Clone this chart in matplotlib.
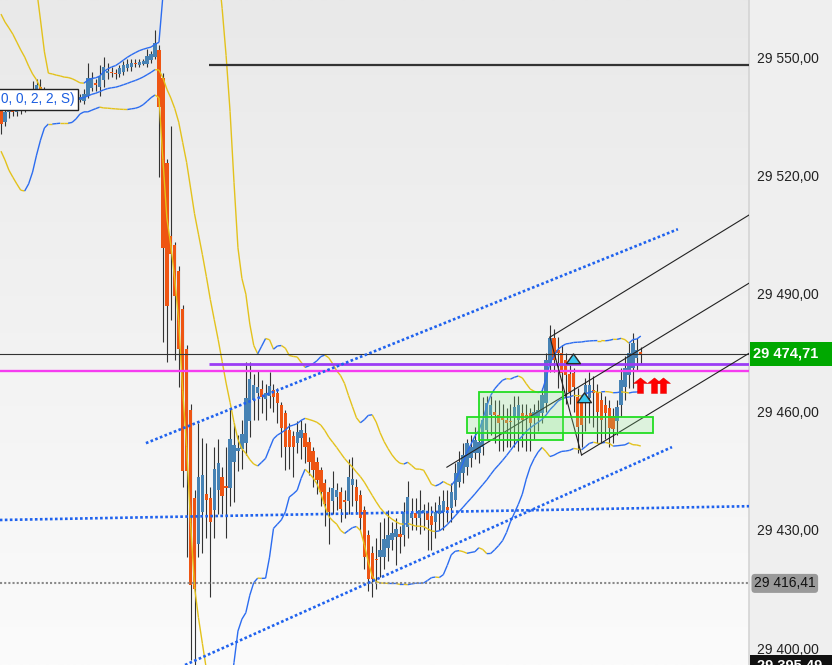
import numpy as np
import pandas as pd
import matplotlib
matplotlib.use("Agg")
import matplotlib.pyplot as plt
from matplotlib.collections import LineCollection
from matplotlib.patches import Rectangle
from matplotlib.path import Path
from matplotlib.colors import LinearSegmentedColormap
import matplotlib.transforms as mtransforms

plt.rcParams['font.family'] = ['Liberation Sans', 'DejaVu Sans']

# candles (left to right)
opens = [29537, 29533.5, 29536, 29537, 29536, 29537.5, 29537, 29538.5, 29540, 29541.5,
         29542.5, 29542, 29541, 29541.5, 29540.5, 29541.5, 29540.5, 29539.5, 29538.5, 29539,
         29539.2, 29538.8, 29540, 29542.2, 29543.4, 29542.4, 29544.2, 29546, 29546.3, 29546,
         29545.8, 29546.3, 29547.3, 29547.5, 29548.6, 29548, 29548.3, 29548.3, 29549.3, 29550,
         29551.8, 29544.7, 29523.1, 29504.6, 29502.3, 29495.7, 29486, 29476, 29460.5, 29438,
         29426.5, 29434.6, 29439, 29438, 29435, 29440.2, 29443.5, 29441.2, 29440.7, 29447.1,
         29450, 29450.4, 29452.1, 29457.7, 29463, 29464.8, 29465.8, 29463.3, 29464, 29465.6,
         29464.8, 29461.8, 29459.7, 29455.4, 29453.9, 29452.1, 29453.4, 29454.7, 29452.4, 29449.9,
         29447.3, 29445.3, 29442, 29439.7, 29437.2, 29438.4, 29439.5, 29437.5, 29437.2, 29441.5,
         29441, 29438.9, 29435.1, 29428.8, 29424.2, 29422.7, 29423, 29423.2, 29425.5, 29427.5,
         29428.3, 29429, 29428.8, 29430.6, 29433.1, 29434.2, 29433.1, 29434.4, 29434.4, 29433.6,
         29432.1, 29433.9, 29434.6, 29435.9, 29435.6, 29437.7, 29442.2, 29444.5, 29446, 29448.3,
         29449.6, 29449.6, 29451.1, 29455.4, 29459.2, 29460, 29459.2, 29458.7, 29458, 29457.7,
         29458.7, 29458, 29459.7, 29459.2, 29459.7, 29458.7, 29458.7, 29459.7, 29462.3, 29472.4,
         29478.8, 29475.7, 29475, 29473.2, 29469.5, 29469.9, 29463.8, 29462.5, 29463.8, 29463.5,
         29465.6, 29465, 29463, 29461.8, 29461, 29459, 29457.5, 29461.8, 29466.3, 29469.4,
         29471.1, 29473.7, 29475]
highs = [29538, 29537, 29538, 29538, 29538.5, 29539, 29540, 29541.5, 29544, 29544.5,
         29544.5, 29542.5, 29542, 29542, 29542, 29542, 29541.5, 29540.5, 29540, 29540.5,
         29540.5, 29542, 29548.5, 29546.2, 29544.5, 29548, 29550, 29548.5, 29547.5, 29547,
         29548, 29549, 29549.5, 29549.5, 29549.5, 29549.5, 29549.6, 29552, 29551.5, 29556.8,
         29553, 29546, 29524, 29532.5, 29503, 29497, 29487, 29477, 29462, 29440,
         29457, 29453.4, 29452, 29441, 29451, 29453, 29446, 29451, 29461, 29457,
         29454, 29458, 29472.7, 29472.7, 29469.5, 29470.5, 29468, 29467, 29470, 29467,
         29466, 29462.5, 29460.5, 29457, 29455, 29457.5, 29458, 29457, 29453.5, 29451,
         29448.5, 29446, 29443, 29441, 29445, 29442, 29441, 29440, 29448, 29448.6,
         29443, 29440, 29436, 29430, 29426, 29428, 29432, 29433, 29435, 29432,
         29433, 29431, 29437, 29442.5, 29438, 29438, 29440, 29436.5, 29437, 29436,
         29437, 29438.5, 29440, 29440, 29442, 29447, 29450, 29452, 29453, 29454,
         29456, 29456, 29463.8, 29464, 29464, 29463, 29463, 29462, 29461, 29462,
         29464, 29464, 29462, 29462, 29461, 29462, 29463, 29466, 29475, 29482,
         29481, 29479, 29477, 29475, 29472, 29471, 29466, 29464, 29468.5, 29470,
         29469, 29467, 29465, 29464, 29463, 29461, 29463, 29471, 29474, 29477.5,
         29480, 29478.8, 29476.5]
lows = [29530.5, 29532.5, 29534.5, 29535, 29535, 29535.5, 29536, 29537.5, 29539, 29540,
        29540, 29539, 29539.5, 29539.5, 29539, 29539.5, 29538.5, 29537.5, 29537.5, 29538,
        29538.5, 29538, 29539.5, 29541.5, 29541.5, 29540, 29542.5, 29544.5, 29545, 29544.5,
        29545, 29545.5, 29546.5, 29546.5, 29547.5, 29547.5, 29548, 29547.5, 29548.5, 29549.5,
        29519.6, 29477.7, 29472.5, 29483.3, 29473, 29466.3, 29441, 29423, 29397, 29395.5,
        29423, 29424, 29428, 29413, 29428, 29434, 29434, 29428, 29436, 29437,
        29445, 29445.5, 29449, 29453.5, 29458, 29458, 29459.7, 29458, 29461, 29460,
        29457, 29448.6, 29445.3, 29445.5, 29443.3, 29449.5, 29448, 29447, 29444, 29441,
        29439, 29436, 29431, 29426.3, 29434, 29435, 29432, 29433, 29434, 29436,
        29434, 29430, 29420, 29414.4, 29413, 29415, 29418, 29420, 29422, 29425,
        29421, 29424, 29426, 29428, 29430, 29430, 29429, 29430, 29425, 29425,
        29428, 29430, 29430, 29432, 29432, 29436, 29441, 29442, 29444, 29446,
        29448, 29447, 29449, 29453, 29454, 29452, 29450, 29450, 29451, 29451,
        29451, 29450, 29451, 29450, 29450, 29453, 29455, 29457, 29460, 29470,
        29470, 29466, 29465, 29462, 29462, 29460, 29449.6, 29451, 29455, 29457,
        29456, 29452, 29452, 29453, 29451, 29452, 29454, 29459, 29463, 29466,
        29466, 29470.6, 29472]
closes = [29533, 29536, 29537, 29536, 29537.5, 29537, 29538.5, 29540, 29542, 29543,
          29541.5, 29541, 29541.5, 29540.5, 29541.5, 29540.5, 29539.5, 29538.5, 29539, 29539.5,
          29539.8, 29540.6, 29544.7, 29544.7, 29542.9, 29545.2, 29547.5, 29546.5, 29546, 29545.7,
          29547.2, 29548, 29548.3, 29548.4, 29548.3, 29548.8, 29549, 29550.3, 29550.8, 29553.5,
          29537.3, 29501.6, 29486.9, 29500, 29489.4, 29476, 29445, 29445, 29416, 29415,
          29443.3, 29443.8, 29437.5, 29432, 29445.5, 29447, 29438.7, 29440.7, 29453.1, 29451.6,
          29450.8, 29454.2, 29463.5, 29468.4, 29466.8, 29466.3, 29463.8, 29464.8, 29466.5, 29463.8,
          29462.3, 29455.9, 29451.1, 29450.9, 29451.1, 29454.9, 29455.4, 29450.9, 29447.3, 29445.3,
          29442.7, 29439.5, 29436.5, 29434.6, 29440.7, 29440.2, 29435.4, 29437.1, 29443.5, 29442.8,
          29437.2, 29433.1, 29423, 29417.4, 29417.4, 29422.3, 29425, 29427.8, 29428.8, 29429.3,
          29430.1, 29428.3, 29434.6, 29438.4, 29434.4, 29433, 29435.1, 29435.1, 29432.6, 29431.3,
          29434.6, 29436.2, 29437.2, 29435.1, 29439.7, 29444.5, 29447.3, 29449.1, 29452.1, 29450.9,
          29452.9, 29452.4, 29458, 29462.3, 29461.8, 29459.2, 29457.2, 29458, 29457.2, 29457.4,
          29461.3, 29461.8, 29458, 29458.5, 29457.2, 29460, 29460.5, 29464.3, 29473.2, 29478.8,
          29473.2, 29475, 29469.9, 29469.4, 29465, 29466.3, 29456.2, 29456.7, 29466.8, 29466.8,
          29464.8, 29460, 29458, 29459.7, 29455.9, 29455.5, 29461.3, 29468.1, 29471.1, 29475,
          29477.5, 29475.7, 29474.71]

# band values before the first full 20-bar window
nan = np.nan
upper_head = [nan, nan, nan, nan, nan, nan, nan, nan, nan, 29567.3,
              29559.4, 29551.3, 29545.9, 29545.7, 29545.4, 29545.2, 29544.9, 29544.8, 29544.5]
mid_head = [29560.9, 29558.9, 29557.4, 29555.8, 29553.8, 29551.8, 29550.0, 29547.7, 29545.7, 29544.2,
            29542.1, 29541.1, 29540.6, 29540.1, 29539.8, 29539.6, 29539.5, 29539.3, 29539.2]
lower_head = [29526.1, 29523.9, 29521.3, 29519.5, 29517.8, 29516.2, 29516.0, 29517.8, 29520.8, 29525.1,
              29528.9, 29532.0, 29533.0, 29533.0, 29533.1, 29533.2, 29533.2, 29533.2, 29533.4]

# drawn objects: (bar index, price) anchors
dotted_lines = [[(36.7, 29452.0), (171.4, 29506.3)],
                [(46.6, 29395.7), (169.9, 29451.0)],
                [(-0.3, 29432.5), (189.4, 29436.0)]]
channel_lines = [[(139.0, 29478.9), (189.4, 29509.9)],
                 [(112.9, 29445.9), (189.4, 29492.6)],
                 [(147.0, 29449.0), (189.4, 29474.8)],
                 [(139.0, 29478.9), (147.0, 29449.0)]]
zones = [(121.1, 142.2, 29452.8, 29464.9), (118.05, 165.1, 29454.5, 29458.7)]
signal_up = [(144.9, 29473.3), (147.7, 29463.4)]
arrows_x = [161.9, 165.4, 167.7]
arrows_y = 29467.2

level_start = 52.7
level_black = 29548.0
level_purple = 29472.1
level_magenta = 29470.3
last_price = 29474.71
prev_low = 29416.41
day_low = 29395.49
yticks = [29400, 29430, 29460, 29490, 29520, 29550]


def fmt(v):
    return f"{v:,.2f}".replace(",", " ").replace(".", ",")


fig = plt.figure(figsize=(8.32, 6.65), dpi=100)
fig.patch.set_facecolor('#efefef')
ax = fig.add_axes([0, 0, 749 / 832, 1])
x0, x1 = -0.25, 189.4
y0, y1 = 29395.7, 29564.47

# background gradient
cmap = LinearSegmentedColormap.from_list('bg', ['#fbfbfb', '#e9e9e9'])
ax.imshow(np.linspace(0, 1, 256).reshape(-1, 1), extent=[x0, x1, y0, y1], origin='lower',
          aspect='auto', cmap=cmap, zorder=0)

o = np.array(opens)
h = np.array(highs)
l = np.array(lows)
c = np.array(closes)
idx = np.arange(len(c))

# candles
ax.vlines(idx, l, h, color='#333333', lw=0.8, zorder=2)
bull = c >= o
bottoms = np.minimum(o, c)
heights = np.maximum(np.abs(c - o), 0.3)
ax.bar(idx, heights, bottom=bottoms, width=0.84,
       color=np.where(bull, '#4682b4', '#ee5513'), lw=0, zorder=3)

# Bollinger bands (20, 2), coloured by slope
s = pd.Series(c)
mid = s.rolling(20).mean()
sd = s.rolling(20).std(ddof=0)
upper = (mid + 2 * sd).to_numpy()
lower = (mid - 2 * sd).to_numpy()
mid = mid.to_numpy()
upper[:19] = upper_head
mid[:19] = mid_head
lower[:19] = lower_head

for band in (upper, mid, lower):
    pts = np.column_stack([idx, band])
    segs = np.stack([pts[:-1], pts[1:]], axis=1)
    ok = ~np.isnan(segs).any(axis=(1, 2))
    cols = np.where(band[1:] > band[:-1], '#2b6cf0', '#e3c21c')
    ax.add_collection(LineCollection(segs[ok], colors=cols[ok], lw=1.0, zorder=4))

# levels
ax.hlines(level_black, level_start, x1, color='#333333', lw=1.6, zorder=5)
ax.axhline(last_price, color='#333333', lw=0.8, zorder=5)
ax.hlines(level_purple, level_start, x1, color='#9b3cf5', lw=2.0, zorder=5)
ax.axhline(level_magenta, color='#f53cf0', lw=1.7, zorder=5)
ax.axhline(prev_low, color='#8a8a8a', lw=1.5, ls=(0, (1, 1)), zorder=5)

# trend lines
for (xa, ya), (xb, yb) in dotted_lines:
    ax.plot([xa, xb], [ya, yb], color='#1f62ee', lw=1.9, ls=(0, (1, 0.9)), zorder=5)
for (xa, ya), (xb, yb) in channel_lines:
    ax.plot([xa, xb], [ya, yb], color='#222222', lw=0.8, zorder=5)

# zones
for xa, xb, ya, yb in zones:
    ax.add_patch(Rectangle((xa, ya), xb - xa, yb - ya, fc=(0.55, 0.92, 0.55, 0.22),
                           ec='#22dd22', lw=1.3, zorder=5))

# signals
tri = Path([(-1, -0.6), (1, -0.6), (0, 0.8), (-1, -0.6)],
           [Path.MOVETO, Path.LINETO, Path.LINETO, Path.CLOSEPOLY])
ax.plot([p[0] for p in signal_up], [p[1] for p in signal_up], ls='none', marker=tri,
        ms=10, mfc='#3cc8ef', mec='#2a2a2a', mew=1.0, zorder=6)
arrow = Path([(-1, 0), (0, 0.8), (1, 0), (0.43, 0), (0.43, -1.43), (-0.43, -1.43), (-0.43, 0), (-1, 0)],
             [Path.MOVETO] + [Path.LINETO] * 6 + [Path.CLOSEPOLY])
ax.plot(arrows_x, [arrows_y] * len(arrows_x), ls='none', marker=arrow, ms=14.4,
        mfc='#ff0000', mec='#e00000', mew=0.3, zorder=6)

# indicator caption
ax.text(0.0, 29539.3, "0, 0, 2, 2, S)", color='#1d5fe0', fontsize=9.8, va='center', ha='left',
        bbox=dict(boxstyle='square,pad=0.25', fc='white', ec='#222222', lw=1), zorder=8)

ax.set_xlim(x0, x1)
ax.set_ylim(y0, y1)
ax.set_xticks([])
ax.yaxis.tick_right()
ax.set_yticks(yticks)
ax.set_yticklabels([fmt(v) for v in yticks])
ax.tick_params(axis='y', length=0, pad=6, labelsize=10, labelcolor='#222222')
for side in ('top', 'left', 'bottom'):
    ax.spines[side].set_visible(False)
ax.spines['right'].set_color('#d4d4d4')
ax.spines['right'].set_linewidth(1.2)

# price labels on the scale
tr = mtransforms.blended_transform_factory(fig.transFigure, ax.transData)
ph = 1 / 3.94
ax.add_patch(Rectangle((750 / 832, last_price - 12 * ph), 82 / 832, 24 * ph, transform=tr,
                       fc='#00a800', ec='none', clip_on=False, zorder=10))
ax.text(753 / 832, last_price, fmt(last_price), transform=tr, color='white', fontsize=10.5,
        fontweight='bold', va='center', ha='left', zorder=11)
ax.text(754 / 832, prev_low, fmt(prev_low), transform=tr, color='#111111', fontsize=10,
        va='center', ha='left', zorder=11,
        bbox=dict(boxstyle='round,pad=0.18,rounding_size=0.25', fc='#9a9a9a', ec='none'))
ax.add_patch(Rectangle((750 / 832, day_low - 11 * ph), 82 / 832, 22 * ph, transform=tr,
                       fc='#111111', ec='none', clip_on=False, zorder=10))
ax.text(757 / 832, day_low, fmt(day_low), transform=tr, color='white', fontsize=10.5,
        fontweight='bold', va='center', ha='left', zorder=11)

fig.savefig('out.png', dpi=100, facecolor=fig.get_facecolor())
